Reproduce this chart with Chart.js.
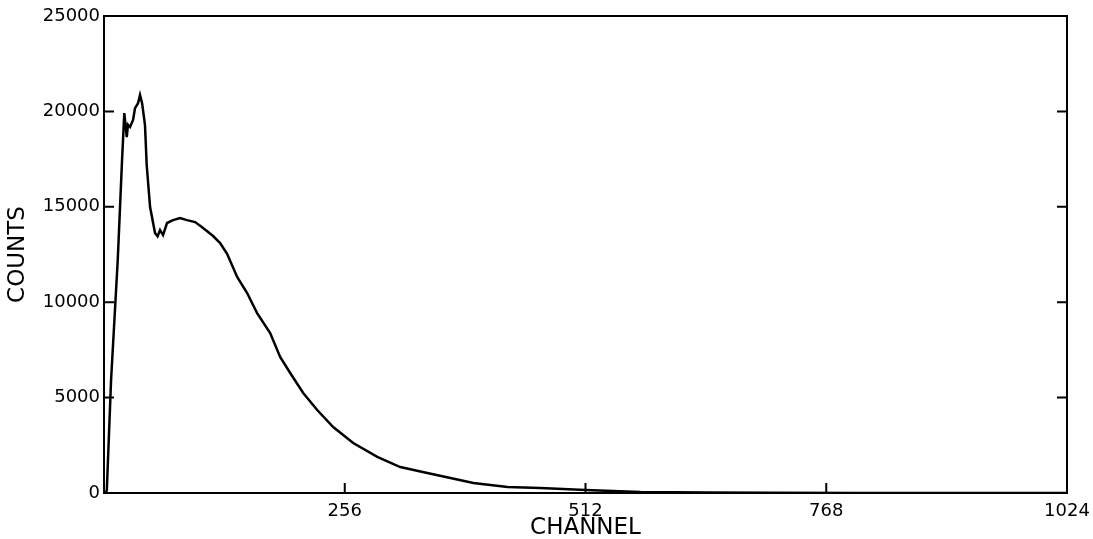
<!DOCTYPE html>
<html lang="en">
<head>
    <meta charset="UTF-8">
    <title>Spectrum</title>
    <style>
        html, body { margin: 0; padding: 0; background: #fff; }
        #wrap { width: 1093px; height: 539px; }
    </style>
</head>
<body>

    <div id="wrap">
        <canvas id="myChart" width="1093" height="539"></canvas>
    </div>

    <script src="https://cdn.jsdelivr.net/npm/chart.js@4.4.0/dist/chart.umd.min.js"></script>

    <script>

// channel numbers and counts
const channels = [0, 2, 3, 7.5, 14.6, 19.2, 21.6, 24.2, 25.5, 27.7, 30.9, 33, 36.2, 38.3, 40.5, 43.6, 45.4,
  49, 54.3, 57, 59.6, 62.8, 67, 73.4, 80.9, 88.3, 96.9, 105.4, 116, 123.5, 131, 141.6, 152.2, 162.8,
  176.7, 187.3, 198, 211.8, 226.7, 243.7, 265, 290.6, 315, 343.8, 368.3, 392.8, 429, 464, 512,
  570.5, 642, 709, 800, 900, 1024];
const counts = [0, 0, 150, 5900, 12200, 17450, 19910, 18650, 19300, 19180, 19550, 20170, 20430, 20860, 20430, 19280, 17190,
  14990, 13620, 13450, 13780, 13520, 14150, 14300, 14410, 14300, 14200, 13890, 13470, 13100, 12520, 11320, 10480, 9430,
  8380, 7130, 6290, 5240, 4350, 3460, 2620, 1890, 1360, 1050, 790, 520, 310, 260, 160,
  50, 30, 10, 0, 0, 0];

const xTicks = [0, 256, 512, 768, 1024];
const yTicks = [0, 5000, 10000, 15000, 20000, 25000];

const points = channels.map((c, i) => ({ x: c, y: counts[i] }));

// frame and inward tick marks
const framePlugin = {
  id: 'frame',
  afterDraw(chart) {
    const { ctx, chartArea: a, scales } = chart;
    ctx.save();
    ctx.strokeStyle = '#000';
    ctx.lineWidth = 2;
    ctx.strokeRect(a.left, a.top, a.right - a.left, a.bottom - a.top);
    ctx.beginPath();
    yTicks.forEach(v => {
      const y = scales.y.getPixelForValue(v);
      ctx.moveTo(a.left, y); ctx.lineTo(a.left + 10, y);
      ctx.moveTo(a.right, y); ctx.lineTo(a.right - 10, y);
    });
    xTicks.forEach(v => {
      const x = scales.x.getPixelForValue(v);
      ctx.moveTo(x, a.bottom); ctx.lineTo(x, a.bottom - 10);
    });
    ctx.stroke();
    ctx.restore();
  }
};

const font = 'DejaVu Sans';

const config = {
  type: 'line',
  data: {
    datasets: [{
      data: points,
      borderColor: '#000',
      borderWidth: 2.5,
      pointRadius: 0,
      tension: 0,
      fill: false
    }]
  },
  options: {
    responsive: false,
    animation: false,
    layout: { padding: { top: 16, right: 26, left: 0, bottom: 0 } },
    plugins: { legend: { display: false }, tooltip: { enabled: false } },
    scales: {
      x: {
        type: 'linear',
        min: 0,
        max: 1024,
        afterBuildTicks: s => { s.ticks = xTicks.map(v => ({ value: v })); },
        // let the last label hang past the frame
        afterFit: s => { s.height = 46; s.paddingRight = 0; },
        grid: { display: false, drawTicks: false },
        border: { display: false },
        ticks: {
          color: '#000',
          padding: 8,
          maxRotation: 0,
          font: { family: font, size: 18 },
          callback: v => v === 0 ? '' : v
        },
        title: {
          display: true,
          text: 'CHANNEL',
          color: '#000',
          padding: { top: 0, bottom: -1 },
          font: { family: font, size: 23, lineHeight: 1 }
        }
      },
      y: {
        min: 0,
        max: 25000,
        afterBuildTicks: s => { s.ticks = yTicks.map(v => ({ value: v })); },
        afterFit: s => { s.width = 104; },
        grid: { display: false, drawTicks: false },
        border: { display: false },
        ticks: {
          color: '#000',
          padding: 4,
          font: { family: font, size: 18 },
          callback: v => String(v)
        },
        title: {
          display: true,
          text: 'COUNTS',
          color: '#000',
          padding: { top: 4, bottom: 0 },
          font: { family: font, size: 23 }
        }
      }
    }
  },
  plugins: [framePlugin]
};

const myChart = new Chart(document.getElementById('myChart'), config);

    </script>

</body>
</html>
